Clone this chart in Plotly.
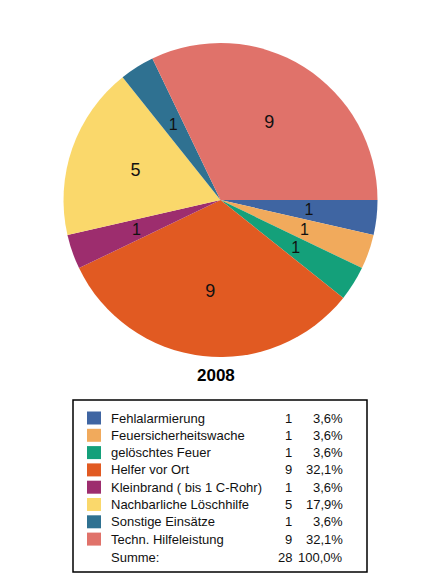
import plotly.graph_objects as go

categories = ["Fehlalarmierung", "Feuersicherheitswache", "gelöschtes Feuer", "Helfer vor Ort",
              "Kleinbrand ( bis 1 C-Rohr)", "Nachbarliche Löschhilfe", "Sonstige Einsätze",
              "Techn. Hilfeleistung"]
counts = [1, 1, 1, 9, 1, 5, 1, 9]
colors = ["#3F65A2", "#F1AA5C", "#14A07A", "#E15A22", "#9D2D6E", "#FAD86B", "#2F7191", "#E0726A"]
title_text = "2008"
sum_label = "Summe:"

OFF = 8  # page body margin
W, H = 447 - OFF, 575 - OFF
def px(x): return (x - OFF) / W
def py(y): return 1 - (y - OFF) / H

cx, cy, R = 220.5, 200, 157
total = sum(counts)
pie_font = dict(family="Liberation Sans, Arial", size=18, color="#111")

fig = go.Figure()
fig.add_trace(go.Pie(
    labels=categories, values=counts, sort=False, direction="clockwise", rotation=90,
    marker=dict(colors=colors, line=dict(width=0)),
    textinfo="none",
    domain=dict(x=[px(cx - R), px(cx + R)], y=[py(cy + R), py(cy - R)]),
    showlegend=False, hoverinfo="label+value+percent",
))

# transparent overlay pies that only carry the value labels, sized so that
# plotly's inside-text placement lands near 0.58 R as in the original
def label_pie(select, scale):
    r = R * scale
    fig.add_trace(go.Pie(
        labels=categories, values=counts, sort=False, direction="clockwise", rotation=90,
        marker=dict(colors=["rgba(0,0,0,0)"] * len(counts), line=dict(width=0)),
        text=[str(v) if select(v) else "" for v in counts], textinfo="text",
        textposition="inside", insidetextorientation="horizontal", textfont=pie_font,
        domain=dict(x=[px(cx - r), px(cx + r)], y=[py(cy + r), py(cy - r)]),
        showlegend=False, hoverinfo="skip",
    ))

label_pie(lambda v: v / total <= 0.1, 0.63)
label_pie(lambda v: 0.1 < v / total <= 0.25, 0.88)
label_pie(lambda v: v / total > 0.25, 1.08)

shapes = [dict(type="rect", xref="paper", yref="paper", x0=px(73), x1=px(367), y0=py(572), y1=py(400),
               line=dict(color="#000", width=1.5), fillcolor="rgba(0,0,0,0)")]
annotations = [dict(text="<b>" + title_text + "</b>", x=px(216), y=py(375), xref="paper", yref="paper",
                    xanchor="center", yanchor="middle",
                    showarrow=False, font=dict(family="Liberation Sans, Arial", size=17, color="#000"))]

font = dict(family="Liberation Sans, Arial", size=13, color="#111")
row0, step = 418, 17.3
def fmt_pct(v):
    return ("%.1f%%" % (100 * v / total)).replace(".", ",")
def ann(text, x, y, anchor):
    annotations.append(dict(text=text, x=px(x), y=py(y), xref="paper", yref="paper", xanchor=anchor,
                            yanchor="middle", showarrow=False, font=font))
for i, (c, v, col) in enumerate(zip(categories, counts, colors)):
    y = row0 + i * step
    shapes.append(dict(type="rect", xref="paper", yref="paper", x0=px(87), x1=px(101),
                       y0=py(y + 6.5), y1=py(y - 6.5), line=dict(width=0), fillcolor=col))
    ann(c, 109, y, "left")
    ann(str(v), 294, y, "right")
    ann(fmt_pct(v), 345, y, "right")
ys = row0 + 8 * step + 1
ann(sum_label, 109, ys, "left")
ann(str(total), 294, ys, "right")
ann(fmt_pct(total), 345, ys, "right")

fig.update_layout(width=W, height=H, margin=dict(l=0, r=0, t=0, b=0),
                  paper_bgcolor="#FFFFFF", plot_bgcolor="#FFFFFF",
                  shapes=shapes, annotations=annotations)
fig.write_html("out.html")
